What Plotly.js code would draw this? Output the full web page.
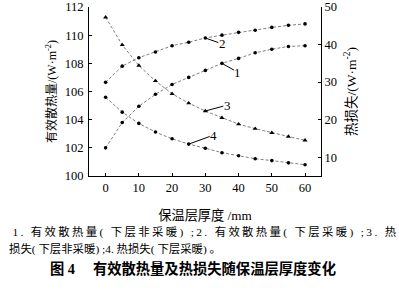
<!DOCTYPE html>
<html>
<head>
<meta charset="utf-8">
<script src="https://cdn.plot.ly/plotly-3.0.1.min.js"></script>
<style>html,body{margin:0;padding:0;background:#fff;}#chart{width:399px;height:294px;}</style>
</head>
<body>
<div id="chart"></div>
<script>
// Data
const thickness = [0, 5, 10, 15, 20, 25, 30, 35, 40, 45, 50, 55, 60];            // mm
const effHeatNonHeated = [102.0, 103.8, 104.95, 105.8, 106.5, 107.0, 107.5, 108.0, 108.35, 108.75, 109.0, 109.2, 109.25]; // curve 1, W/m2
const effHeatHeated    = [106.65, 107.8, 108.4, 108.8, 109.25, 109.5, 109.8, 110.0, 110.2, 110.35, 110.55, 110.7, 110.8]; // curve 2
const lossNonHeated    = [47.25, 39.9, 34.4, 30.3, 26.9, 24.4, 22.3, 20.5, 18.8, 17.6, 16.5, 15.5, 14.5]; // curve 3
const lossHeated       = [25.95, 22.0, 19.0, 16.7, 14.9, 13.5, 12.4, 11.2, 10.4, 9.6, 9.1, 8.5, 8.0];    // curve 4
const curveLabels = ['1', '2', '3', '4'];
const xTitle = '保温层厚度 /mm';
const yTitle = '有效散热量/(W·m<sup>-2</sup>)';
const y2Title = '热损失/(W·m<sup>-2</sup>)';
const caption1 = '1. 有效散热量( 下层非采暖) ;2. 有效散热量( 下层采暖) ;3. 热';
const caption2 = '损失( 下层非采暖) ;4. 热损失( 下层采暖) 。';
const figTitle = '图 4\u3000\u00a0有效散热量及热损失随保温层厚度变化';

const FONT = '"Liberation Serif", "Noto Sans CJK SC", serif';
const L = 89, R = 78, T = 7, B = 118, W = 399, H = 294;
const pw = W - L - R, ph = H - T - B;
const px = X => (X - L) / pw;
const py = Y => (H - B - Y) / ph;

const lineStyle = {color: '#707070', width: 0.9, dash: '3px,2px'};
const dot = {symbol: 'circle', size: 3.6, color: '#000'};
const tri = {symbol: 'triangle-up', size: 4.5, color: '#000'};

const traces = [
  {x: thickness, y: effHeatNonHeated, yaxis: 'y', mode: 'lines+markers', line: lineStyle, marker: dot},
  {x: thickness, y: effHeatHeated, yaxis: 'y', mode: 'lines+markers', line: lineStyle, marker: dot},
  {x: thickness, y: lossNonHeated, yaxis: 'y2', mode: 'lines+markers', line: lineStyle, marker: tri},
  {x: thickness, y: lossHeated, yaxis: 'y2', mode: 'lines+markers', line: lineStyle, marker: dot}
];

const lbl = (text, xv, yv, yref, ax, ay) => ({
  text: text, x: xv, y: yv, xref: 'x', yref: yref, showarrow: true, arrowhead: 0,
  arrowwidth: 1, arrowcolor: '#000', ax: ax, ay: ay, font: {family: FONT, size: 13, color: '#000'},
  standoff: 0, borderpad: 0
});

const annotations = [
  lbl(curveLabels[0], thickness[7], effHeatNonHeated[7], 'y', 16, 9),
  lbl(curveLabels[1], thickness[6], effHeatHeated[6], 'y', 17, 6),
  lbl(curveLabels[2], thickness[6], lossNonHeated[6], 'y2', 22, -6),
  lbl(curveLabels[3], thickness[5], lossHeated[5], 'y2', 25, -9),
  {text: caption1, xref: 'paper', yref: 'paper', x: px(205), y: py(232), xanchor: 'center', yanchor: 'middle',
   showarrow: false, font: {family: FONT, size: 11.4, color: '#000'}},
  {text: caption2, xref: 'paper', yref: 'paper', x: px(7), y: py(249), xanchor: 'left', yanchor: 'middle',
   showarrow: false, font: {family: FONT, size: 11.4, color: '#000'}},
  {text: '<b>' + figTitle + '</b>', xref: 'paper', yref: 'paper', x: px(192.5), y: py(268), xanchor: 'center', yanchor: 'middle',
   showarrow: false, font: {family: FONT, size: 14.3, color: '#000'}}
];

const axisCommon = {
  showgrid: false, zeroline: false, showline: true, linecolor: '#000', linewidth: 1,
  ticks: 'inside', ticklen: 3, tickcolor: '#000', tickwidth: 1,
  tickfont: {family: FONT, size: 12.5, color: '#000'}, fixedrange: true
};

const layout = {
  width: W, height: H, margin: {l: L, r: R, t: T, b: B, pad: 0},
  paper_bgcolor: '#fff', plot_bgcolor: '#fff', showlegend: false,
  font: {family: FONT, color: '#000'},
  xaxis: Object.assign({}, axisCommon, {
    range: [-5, 64.8], tick0: 0, dtick: 10,
    title: {text: xTitle, font: {family: FONT, size: 13.2, color: '#000'}, standoff: 16}
  }),
  yaxis: Object.assign({}, axisCommon, {
    range: [100, 112], tick0: 100, dtick: 2, ticklabelstandoff: 2,
    title: {text: yTitle, font: {family: FONT, size: 12, color: '#000'}, standoff: 5}
  }),
  yaxis2: Object.assign({}, axisCommon, {
    range: [5, 50], tick0: 10, dtick: 10, overlaying: 'y', side: 'right',
    title: {text: y2Title, font: {family: FONT, size: 13.5, color: '#000'}, standoff: 10}
  }),
  annotations: annotations
};

Plotly.newPlot('chart', traces, layout, {staticPlot: true, displayModeBar: false}).then(function () {
  // justify the first caption line across the full width, as in the printed figure
  document.querySelectorAll('.annotation-text').forEach(function (t) {
    if (t.textContent === caption1) {
      const w = t.getComputedTextLength();
      const n = t.textContent.length;
      const target = 384;
      if (w < target) t.style.letterSpacing = ((target - w) / (n - 1)).toFixed(2) + 'px';
    }
  });
});
</script>
</body>
</html>
